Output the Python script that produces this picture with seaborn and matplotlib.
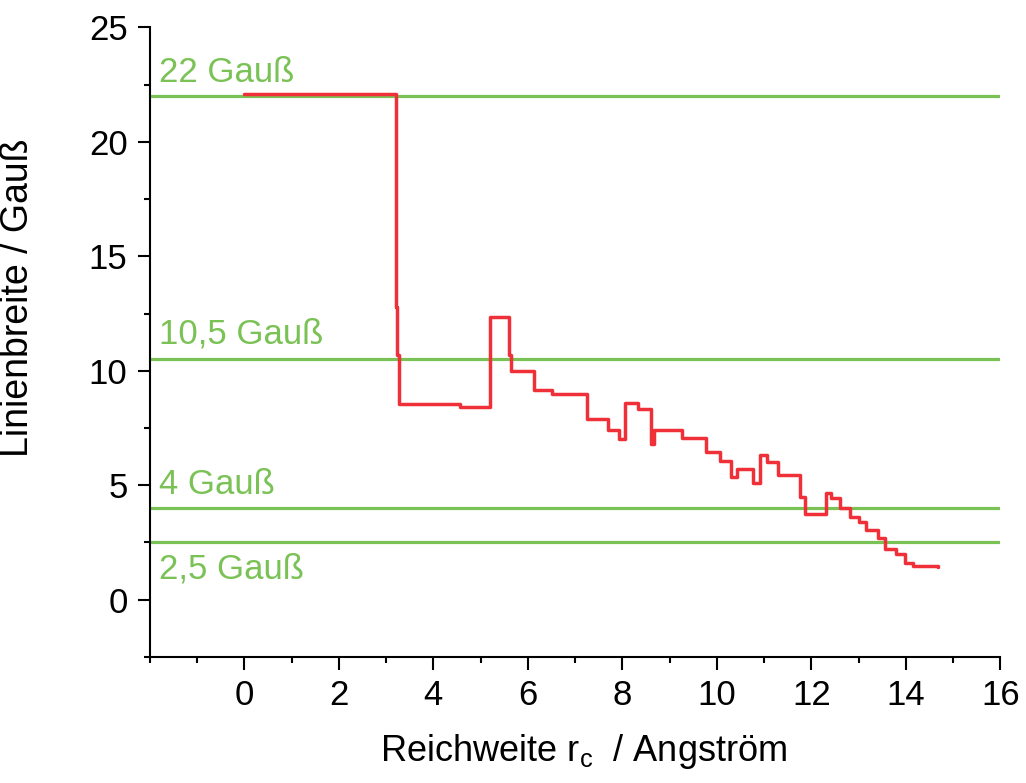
import matplotlib
matplotlib.use("Agg")
import matplotlib.pyplot as plt
import seaborn as sns
import pandas as pd
from matplotlib.ticker import MultipleLocator

# Data
r_c = [0, 3.2, 3.22, 3.24, 3.27, 4.57, 5.2, 5.6, 5.64, 6.14, 6.52, 7.26, 7.7, 7.94,
       8.06, 8.34, 8.61, 8.66, 9.27, 9.78, 10.07, 10.3, 10.42, 10.77, 10.92, 11.07,
       11.3, 11.75, 11.87, 12.3, 12.42, 12.6, 12.82, 13.0, 13.16, 13.42, 13.55, 13.8,
       13.99, 14.16, 14.69]
linewidth_g = [22.1, 17.5, 12.8, 10.7, 8.55, 8.4, 12.37, 10.7, 10.0, 9.18, 9.0, 7.9,
               7.43, 7.0, 8.6, 8.35, 6.8, 7.43, 7.08, 6.47, 6.08, 5.38, 5.73, 5.1,
               6.3, 6.03, 5.46, 4.5, 3.76, 4.68, 4.46, 4.0, 3.63, 3.4, 3.06, 2.7,
               2.23, 2.0, 1.62, 1.48, 1.45]
ref_levels = [22, 10.5, 4, 2.5]
ref_labels = ["22 Gauß", "10,5 Gauß", "4 Gauß", "2,5 Gauß"]
label_y = [22.6, 11.2, 4.6, 0.92]

df = pd.DataFrame({"r": r_c, "w": linewidth_g})

sns.set_style("ticks")
plt.rcParams['font.family'] = ['Liberation Sans', 'DejaVu Sans']
plt.rcParams['mathtext.fontset'] = 'custom'
plt.rcParams['mathtext.rm'] = 'Liberation Sans'

fig = plt.figure(figsize=(10.26, 7.83), dpi=100)
ax = fig.add_axes([0.146, 0.161, 0.829, 0.804])

green = "#7bc256"
red = "#ef3038"

for lvl in ref_levels:
    ax.axhline(lvl, color=green, lw=2.3, zorder=1)

sns.lineplot(data=df, x="r", y="w", drawstyle="steps-post", color=red, lw=2.5,
             ax=ax, zorder=2)

for ty, txt in zip(label_y, ref_labels):
    ax.text(-1.8, ty, txt, color=green, fontsize=25, va="baseline", ha="left")

ax.set_xlim(-2, 16)
ax.set_ylim(-2.5, 25)
ax.set_xticks([0, 2, 4, 6, 8, 10, 12, 14, 16])
ax.xaxis.set_minor_locator(MultipleLocator(1))
ax.set_yticks([0, 5, 10, 15, 20, 25])
ax.yaxis.set_minor_locator(MultipleLocator(2.5))
ax.tick_params(axis="both", which="major", labelsize=25, length=9, width=1.5,
               direction="out", colors="black", pad=7)
ax.tick_params(axis="both", which="minor", length=4.5, width=1.5, direction="out",
               colors="black")
for s in ["left", "bottom"]:
    ax.spines[s].set_linewidth(1.5)
    ax.spines[s].set_color("black")
sns.despine(ax=ax)

ax.set_xlabel("Reichweite r$_{\\mathregular{c}}$  / Angström", fontsize=26, color="black")
ax.set_ylabel("Linienbreite / Gauß", fontsize=27, color="black")
ax.xaxis.set_label_coords(0.51, -0.12)
ax.yaxis.set_label_coords(-0.134, 0.571)

fig.savefig("out.png", dpi=100)
